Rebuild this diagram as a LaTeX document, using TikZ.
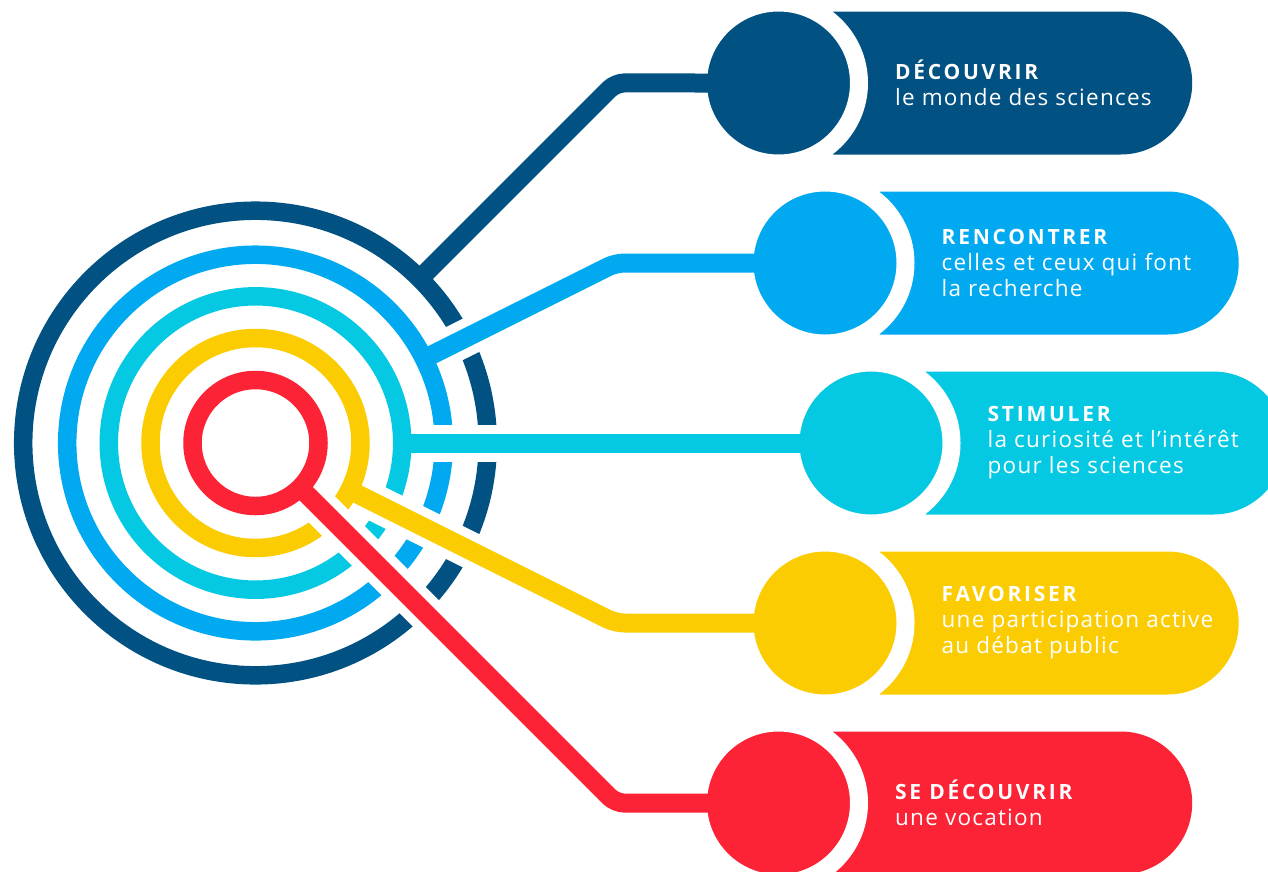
\documentclass[tikz,border=0pt]{standalone}
\usepackage{fontspec}
\setmainfont{Open Sans}[LetterSpace=5.5]
\newfontfamily\headfont{Open Sans}[LetterSpace=13]
\usetikzlibrary{positioning,shapes.misc}

\definecolor{cDark}{HTML}{015182}
\definecolor{cSky}{HTML}{00A9F0}
\definecolor{cCyan}{HTML}{05C9E3}
\definecolor{cGold}{HTML}{FCCC03}
\definecolor{cRed}{HTML}{FB2335}

\pgfdeclarelayer{bg}
\pgfsetlayers{bg,main}

\tikzset{
	ring/.style={line width=18.5pt},
	casing/.style={draw=white, line width=37pt, rounded corners=9pt, shorten <=10pt},
	link/.style={line width=19pt, rounded corners=9pt, shorten >=-11pt},
	pill/.style={rounded rectangle, rounded rectangle left arc=none,
		minimum width=359pt, minimum height=143pt, inner sep=0pt},
	dot/.style={circle, minimum size=161pt, inner sep=0pt, outer sep=0pt,
		draw=white, line width=18pt},
	caption/.style={text=white, align=left, inner sep=0pt,
		font=\fontsize{22.5}{26}\selectfont},
}
\newcommand{\headline}[1]{{\headfont\bfseries\fontsize{21}{26}\selectfont #1}}

\begin{document}
\begin{tikzpicture}[x=1pt, y=-1pt]
	\useasboundingbox (0,0) rectangle (1268,871);
	\coordinate (hub) at (255.5,443);

	% the five round ends
	\node[dot, fill=cDark] (dot1) at (778.5,83) {};
	\node[dot, fill=cSky]  (dot2) at (825,263) {};
	\node[dot, fill=cCyan] (dot3) at (871,443) {};
	\node[dot, fill=cGold] (dot4) at (825,623) {};
	\node[dot, fill=cRed]  (dot5) at (778.5,803) {};

	% the bodies go behind the round ends
	\begin{pgfonlayer}{bg}
		\node[pill, fill=cDark, right=54.5pt of dot1.center] (body1) {};
		\node[pill, fill=cSky,  right=54.5pt of dot2.center] (body2) {};
		\node[pill, fill=cCyan, right=54.5pt of dot3.center] (body3) {};
		\node[pill, fill=cGold, right=54.5pt of dot4.center] (body4) {};
		\node[pill, fill=cRed,  right=54.5pt of dot5.center] (body5) {};
	\end{pgfonlayer}

	% rings
	\foreach \r/\c in {232.3/cDark, 188.3/cSky, 146.7/cCyan, 105/cGold, 63/cRed}
		\draw[ring, \c] (hub) circle[radius=\r pt];

	% feet and knees of the links
	\path (hub) ++(45:232.3pt)     coordinate (foot1) ++(45:277pt)      coordinate (knee1);
	\path (hub) ++(26.565:188.3pt) coordinate (foot2) ++(26.565:214.2pt) coordinate (knee2);
	\path (hub) ++(0:146.7pt)      coordinate (foot3) ++(0:213.5pt)     coordinate (knee3);
	\path (hub) ++(-26.565:105pt)  coordinate (foot4) ++(-26.565:297.5pt) coordinate (knee4);
	\path (hub) ++(-45:63pt)       coordinate (foot5) ++(-45:446.3pt)   coordinate (knee5);

	\foreach \i/\c in {1/cDark, 2/cSky, 3/cCyan, 4/cGold, 5/cRed} {
		\draw[casing] (foot\i) -- (knee\i) -- (dot\i.west);
		\draw[link, \c] (foot\i) -- (knee\i) -- (dot\i.west);
	}

	% texts
	\node[caption, right=116.5pt of dot1.center] (txt1)
		{\headline{DÉCOUVRIR}\\le monde des sciences};
	\node[caption, right=116.5pt of dot2.center] (txt2)
		{\headline{RENCONTRER}\\celles et ceux qui font\\la recherche};
	\node[caption, right=116.5pt of dot3.center] (txt3)
		{\headline{STIMULER}\\la curiosité et l’intérêt\\pour les sciences};
	\node[caption, right=116.5pt of dot4.center] (txt4)
		{\headline{FAVORISER}\\une participation active\\au débat public};
	\node[caption, right=116.5pt of dot5.center] (txt5)
		{\headline{SE DÉCOUVRIR}\\une vocation};
\end{tikzpicture}
\end{document}
